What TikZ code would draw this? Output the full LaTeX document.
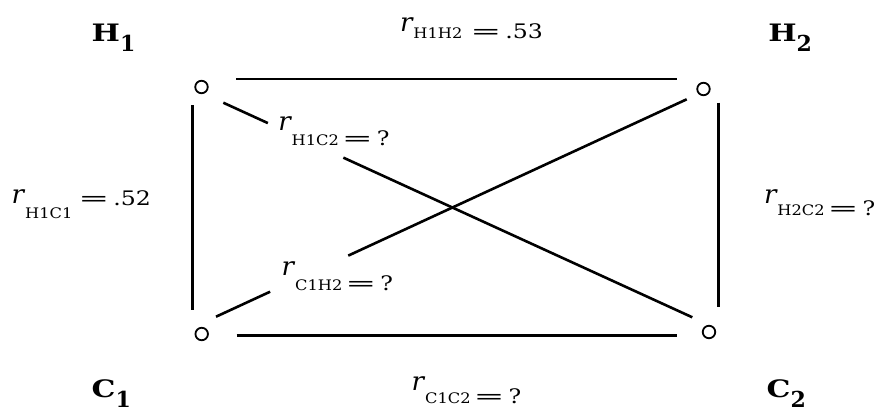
\documentclass[tikz,border=0pt]{standalone}
\usepackage{fontspec}
\setmainfont{DejaVu Serif}
\usepackage{graphicx}
\usetikzlibrary{calc}
% #1 raise of r, #2 raise of value, #3 subscript, #4 value, #5 gap before =
\newcommand{\rlab}[5]{\raisebox{#1}{\fontsize{26}{28}\selectfont\itshape r}\hspace{1pt}\scalebox{1.12}[1]{\fontsize{14.5}{16}\selectfont #3}\hspace{#5}\raisebox{#2}{\fontsize{20}{24}\selectfont\scalebox{1.85}[1]{=}\hspace{4pt}\scalebox{1.18}[1]{#4}}}
\newcommand{\vlab}[2]{\scalebox{1.25}[1]{\fontsize{24}{26}\selectfont\bfseries #1}\raisebox{-10pt}{\fontsize{22}{24}\selectfont\bfseries #2}}
\begin{document}
\begin{tikzpicture}[x=1pt,y=-1pt,
  vert/.style={circle,draw,line width=1.8pt,minimum size=12.5pt,inner sep=0pt},
  edgeline/.style={line width=2.6pt},
  lab/.style={anchor=base west,inner sep=0pt,outer sep=0pt}]
\useasboundingbox (0,0) rectangle (882,413);
% vertices
\node[vert] (h1) at (201.5,87) {};
\node[vert] (h2) at (703.5,89) {};
\node[vert] (c1) at (201.7,334) {};
\node[vert] (c2) at (709,332) {};
% edge end points
\coordinate (ts) at (236,79);   \coordinate (te) at (677,79);
\coordinate (bs) at (236.7,335.3); \coordinate (be) at (676.7,335.3);
\coordinate (ls) at (192.3,105); \coordinate (le) at (192.3,310);
\coordinate (rs) at (718.3,102.7); \coordinate (re) at (718.3,307);
\coordinate (da) at (223.3,102.7); \coordinate (db) at (692.3,317.3);
\coordinate (ea) at (216,316.7); \coordinate (eb) at (686.7,99.3);
\coordinate (dg1) at ($(da)!0.095!(db)$); \coordinate (dg2) at ($(da)!0.256!(db)$);
\coordinate (eg1) at ($(ea)!0.115!(eb)$); \coordinate (eg2) at ($(ea)!0.281!(eb)$);
\draw[edgeline] (ts) -- (te);
\draw[edgeline] (bs) -- (be);
\draw[edgeline] (ls) -- (le);
\draw[edgeline] (rs) -- (re);
\draw[edgeline] (da) -- (dg1);
\draw[edgeline] (dg2) -- (db);
\draw[edgeline] (ea) -- (eg1);
\draw[edgeline] (eg2) -- (eb);
% vertex labels
\node[lab] (lh1) at (91.7,41.7) {\vlab{H}{1}};
\node[lab] (lh2) at (768.3,41.7) {\vlab{H}{2}};
\node[lab] (lc1) at (91.7,397) {\vlab{C}{1}};
\node[lab] (lc2) at (766.7,397) {\vlab{C}{2}};
% correlation labels
\node[lab] (rhh) at (400,38.3) {\rlab{6.7pt}{0pt}{H1H2}{.53}{8pt}};
\node[lab] (rhc) at (278.3,145) {\rlab{15pt}{0pt}{H1C2}{?}{3pt}};
\node[lab] (rch) at (281.7,290) {\rlab{15pt}{0pt}{C1H2}{?}{3pt}};
\node[lab] (rcc) at (411.7,403.3) {\rlab{13pt}{0pt}{C1C2}{?}{3pt}};
\node[lab] (rh1c1) at (11.7,218.3) {\rlab{15pt}{13.3pt}{H1C1}{.52}{6pt}};
\node[lab] (rh2c2) at (764,215) {\rlab{11.7pt}{0pt}{H2C2}{?}{3pt}};
\end{tikzpicture}
\end{document}
